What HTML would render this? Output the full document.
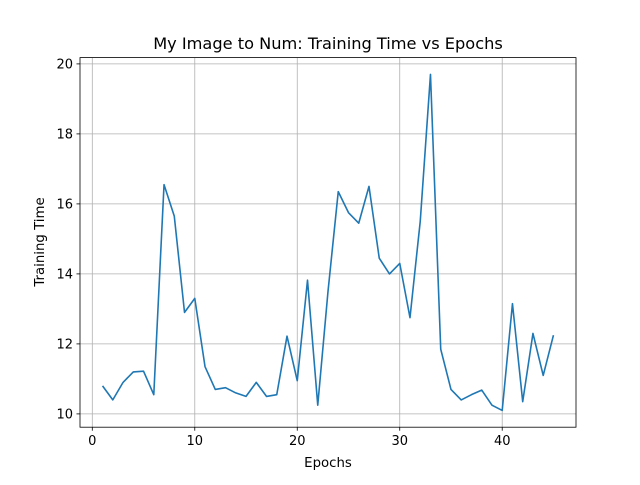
<!DOCTYPE html>
<html><head><meta charset="utf-8"><style>
body{margin:0;background:#fff;}
svg text{font-family:"DejaVu Sans","Liberation Sans",sans-serif;}
</style></head><body>
<svg id="chart" width="640" height="480" xmlns="http://www.w3.org/2000/svg">
<rect width="640" height="480" fill="#fff"/>
<g id="grid"></g>
<g id="ticks"></g>
<polyline id="line" fill="none" stroke="#1f77b4" stroke-width="1.6" stroke-linejoin="round"/>
<rect x="80" y="57.6" width="496" height="369.6" fill="none" stroke="#000" stroke-width="0.8"/>
<text x="328" y="49" text-anchor="middle" font-size="16.2">My Image to Num: Training Time vs Epochs</text>
<text x="328" y="467" text-anchor="middle" font-size="13.3">Epochs</text>
<text transform="translate(44,242) rotate(-90)" text-anchor="middle" font-size="13.3">Training Time</text>
</svg>
<script>
const epochs = [1,2,3,4,5,6,7,8,9,10,11,12,13,14,15,16,17,18,19,20,21,22,23,24,25,26,27,28,29,30,31,32,33,34,35,36,37,38,39,40,41,42,43,44,45];
const times = [10.8,10.4,10.9,11.2,11.22,10.55,16.55,15.65,12.9,13.3,11.35,10.7,10.75,10.6,10.5,10.9,10.5,10.55,12.22,10.95,13.82,10.25,13.5,16.35,15.75,15.45,16.5,14.45,14.0,14.3,12.75,15.5,19.7,11.85,10.7,10.4,10.55,10.68,10.25,10.1,13.15,10.35,12.3,11.1,12.25];
const xTicks = [0,10,20,30,40];
const yTicks = [10,12,14,16,18,20];
const L=80,R=576,T=57.6,B=427.2;
const xmin=Math.min(...epochs),xmax=Math.max(...epochs);
const xpad=(xmax-xmin)*0.05;
const ymin=Math.min(...times),ymax=Math.max(...times);
const ypad=(ymax-ymin)*0.05;
const x=v=>L+(v-(xmin-xpad))/((xmax+xpad)-(xmin-xpad))*(R-L);
const y=v=>B-(v-(ymin-ypad))/((ymax+ypad)-(ymin-ypad))*(B-T);
const NS="http://www.w3.org/2000/svg";
const grid=document.getElementById('grid'),ticks=document.getElementById('ticks');
function mk(tag,attrs,parent){const e=document.createElementNS(NS,tag);for(const k in attrs)e.setAttribute(k,attrs[k]);parent.appendChild(e);return e;}
xTicks.forEach(t=>{const px=x(t);
 const g=mk('line',{x1:px,x2:px,y1:T,y2:B,stroke:'#b0b0b0','stroke-width':0.8},grid);
 
 
 const k=mk('line',{x1:px,x2:px,y1:B,y2:B+3.5,stroke:'#000','stroke-width':0.8},ticks);
 
 
 const l=mk('text',{x:px,y:B+18,'text-anchor':'middle','font-size':13},ticks);l.textContent=t;
 
 
});
yTicks.forEach(t=>{const py=y(t);
 const g=mk('line',{x1:L,x2:R,y1:py,y2:py,stroke:'#b0b0b0','stroke-width':0.8},grid);
 
 
 const k=mk('line',{x1:L-3.5,x2:L,y1:py,y2:py,stroke:'#000','stroke-width':0.8},ticks);
 
 
 const l=mk('text',{x:L-7,y:py+4.8,'text-anchor':'end','font-size':13},ticks);l.textContent=t;
 
 
});
document.getElementById('line').setAttribute('points',epochs.map((e,i)=>x(e)+','+y(times[i])).join(' '));
</script>
</body></html>
